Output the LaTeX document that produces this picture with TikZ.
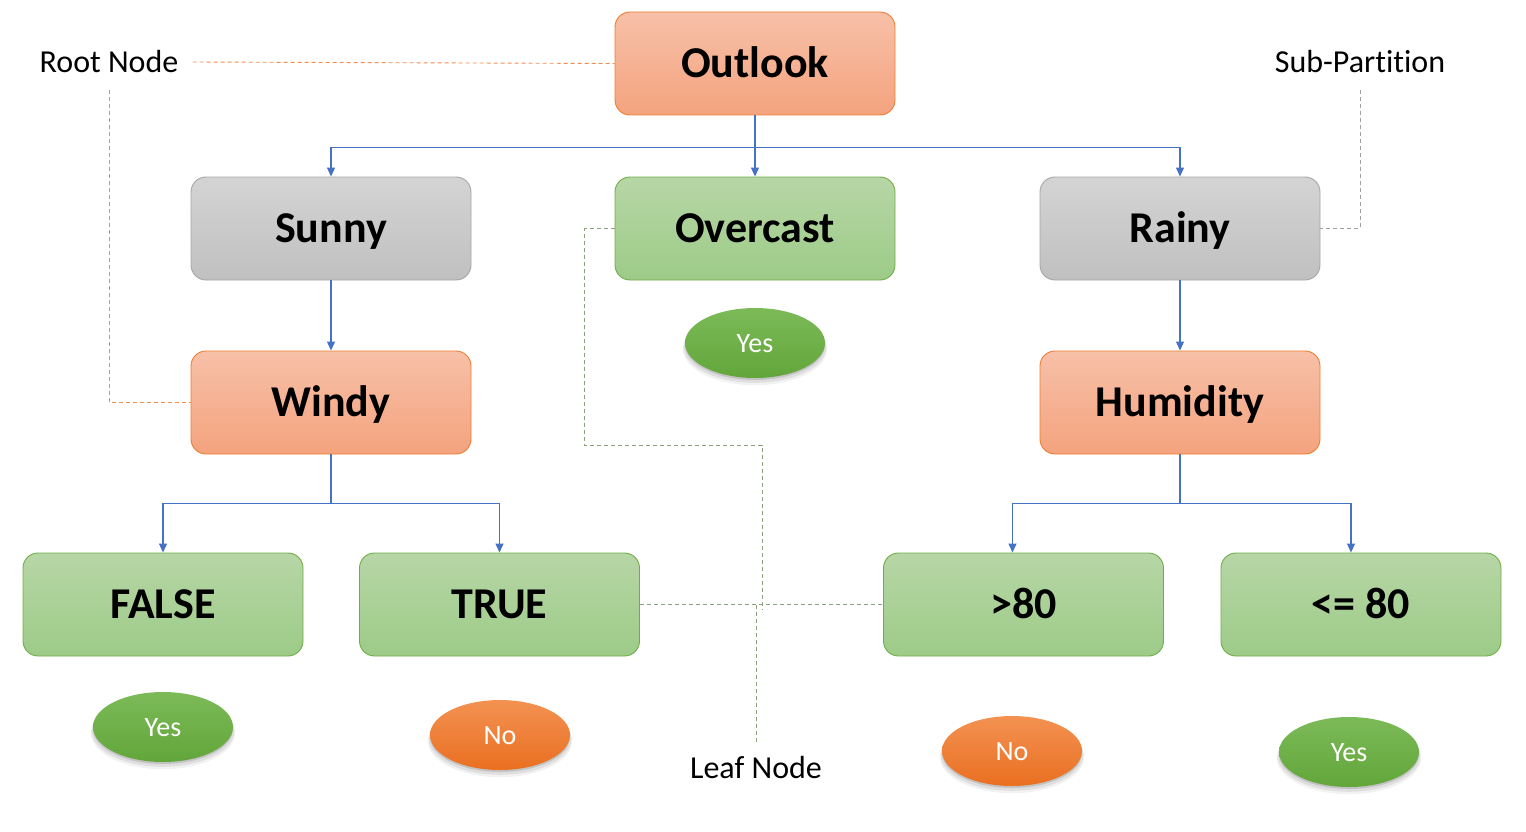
\documentclass[tikz,border=0pt]{standalone}
\usepackage{fontspec}
\setmainfont{Carlito}[Ligatures=NoCommon]
\usetikzlibrary{arrows.meta,shadows,shapes.geometric,calc}
\definecolor{linkblue}{RGB}{68,114,196}
\definecolor{orTop}{RGB}{247,192,168}
\definecolor{orBot}{RGB}{244,163,126}
\definecolor{orLine}{RGB}{237,125,49}
\definecolor{grTop}{RGB}{212,212,212}
\definecolor{grBot}{RGB}{192,192,192}
\definecolor{grLine}{RGB}{165,165,165}
\definecolor{gnTop}{RGB}{183,214,166}
\definecolor{gnBot}{RGB}{157,203,136}
\definecolor{gnLine}{RGB}{112,173,71}
\definecolor{elGnTop}{RGB}{124,186,88}
\definecolor{elGnBot}{RGB}{98,166,58}
\definecolor{elOrTop}{RGB}{243,146,82}
\definecolor{elOrBot}{RGB}{234,111,33}
\definecolor{dashOr}{RGB}{240,140,80}
\definecolor{dashGr}{RGB}{160,160,160}
\definecolor{dashGn}{RGB}{140,160,128}
\begin{document}
\begin{tikzpicture}[x=1pt,y=-1pt,
  box/.style={rounded corners=15pt, minimum width=280pt, minimum height=103pt,
    line width=0.9pt, inner sep=0pt, text height=28pt, text depth=0pt,
    font=\fontsize{44}{50}\selectfont\bfseries},
  orbox/.style={box, draw=orLine, top color=orTop, bottom color=orBot},
  grbox/.style={box, draw=grLine, top color=grTop, bottom color=grBot},
  gnbox/.style={box, draw=gnLine, top color=gnTop, bottom color=gnBot},
  leafel/.style={ellipse, minimum width=140pt, minimum height=70pt, inner sep=0pt,
    text height=18pt, text depth=0pt,
    text=white, font=\fontsize{28}{32}\selectfont,
    drop shadow={shadow xshift=0pt, shadow yshift=-2pt, opacity=0.12, fill=black},
    drop shadow={shadow xshift=0pt, shadow yshift=-4pt, shadow scale=1.02, opacity=0.08, fill=black},
    drop shadow={shadow xshift=0pt, shadow yshift=-6pt, shadow scale=1.03, opacity=0.05, fill=black}},
  yesel/.style={leafel, top color=elGnTop, bottom color=elGnBot},
  noel/.style={leafel, top color=elOrTop, bottom color=elOrBot},
  note/.style={font=\fontsize{32}{38}\selectfont, inner sep=0pt},
  link/.style={draw=linkblue, line width=1.1pt, -{Triangle[length=9pt,width=8pt]}},
  odash/.style={draw=dashOr, line width=0.9pt, dash pattern=on 4pt off 3pt},
  gdash/.style={draw=dashGr, line width=0.9pt, dash pattern=on 4pt off 3pt},
  ndash/.style={draw=dashGn, line width=0.9pt, dash pattern=on 4pt off 3pt}
]
\useasboundingbox (0,0) rectangle (1526,832);

% decision nodes
\node[orbox] (outlook)  at (755,63.5)   {Outlook};
\node[grbox] (sunny)    at (331,228.5)  {Sunny};
\node[gnbox] (overcast) at (755,228.5)  {Overcast};
\node[grbox] (rainy)    at (1180,228.5) {Rainy};
\node[orbox] (windy)    at (331,402.5)  {Windy};
\node[orbox] (humidity) at (1180,402.5) {Humidity};
\node[gnbox] (false)    at (163,604.5)  {FALSE};
\node[gnbox] (true)     at (499.5,604.5) {TRUE};
\node[gnbox] (gt)       at (1023.5,604.5) {>80};
\node[gnbox] (le)       at (1361,604.5) {<= 80};

% leaves
\node[yesel] (yes1) at (755,343)  {Yes};
\node[yesel] (yes2) at (163,727)  {Yes};
\node[noel]  (no1)  at (500,735)  {No};
\node[noel]  (no2)  at (1012,751) {No};
\node[yesel] (yes3) at (1349,752) {Yes};

% annotations
\node[note, anchor=base] (root) at (109,73)  {Root Node};
\node[note, anchor=base] (sub)  at (1360,73) {Sub-Partition};
\node[note, anchor=base] (leaf) at (756,778) {Leaf Node};

% blue tree links
\draw[link] (outlook.south) -- ++(0,32) -| (sunny.north);
\draw[link] (outlook.south) -- (overcast.north);
\draw[link] (outlook.south) -- ++(0,32) -| (rainy.north);
\draw[link] (sunny.south) -- (windy.north);
\draw[link] (rainy.south) -- (humidity.north);
\draw[link] (windy.south) -- ++(0,49) -| (false.north);
\draw[link] (windy.south) -- ++(0,49) -| (true.north);
\draw[link] (humidity.south) -- ++(0,49) -| ([xshift=-11pt]gt.north);
\draw[link] (humidity.south) -- ++(0,49) -| ([xshift=-10pt]le.north);

% dashed annotation lines
\draw[odash] ([xshift=14pt]root.east) -- (outlook.west);
\draw[odash] ($(root.south)+(0,17)$) |- (windy.west);
\draw[gdash] ($(sub.south)+(0,17)$) |- (rainy.east);
\coordinate (ovend) at (762,610);
\draw[ndash] (overcast.west) -- ++(-30,0) |- ($(ovend)+(0,-165)$) -- (ovend);
\draw[ndash] (true.east) -- (gt.west);
\draw[ndash] ($(leaf.north)+(0,-14)$) -- (leaf.north |- true.east);
\end{tikzpicture}
\end{document}
